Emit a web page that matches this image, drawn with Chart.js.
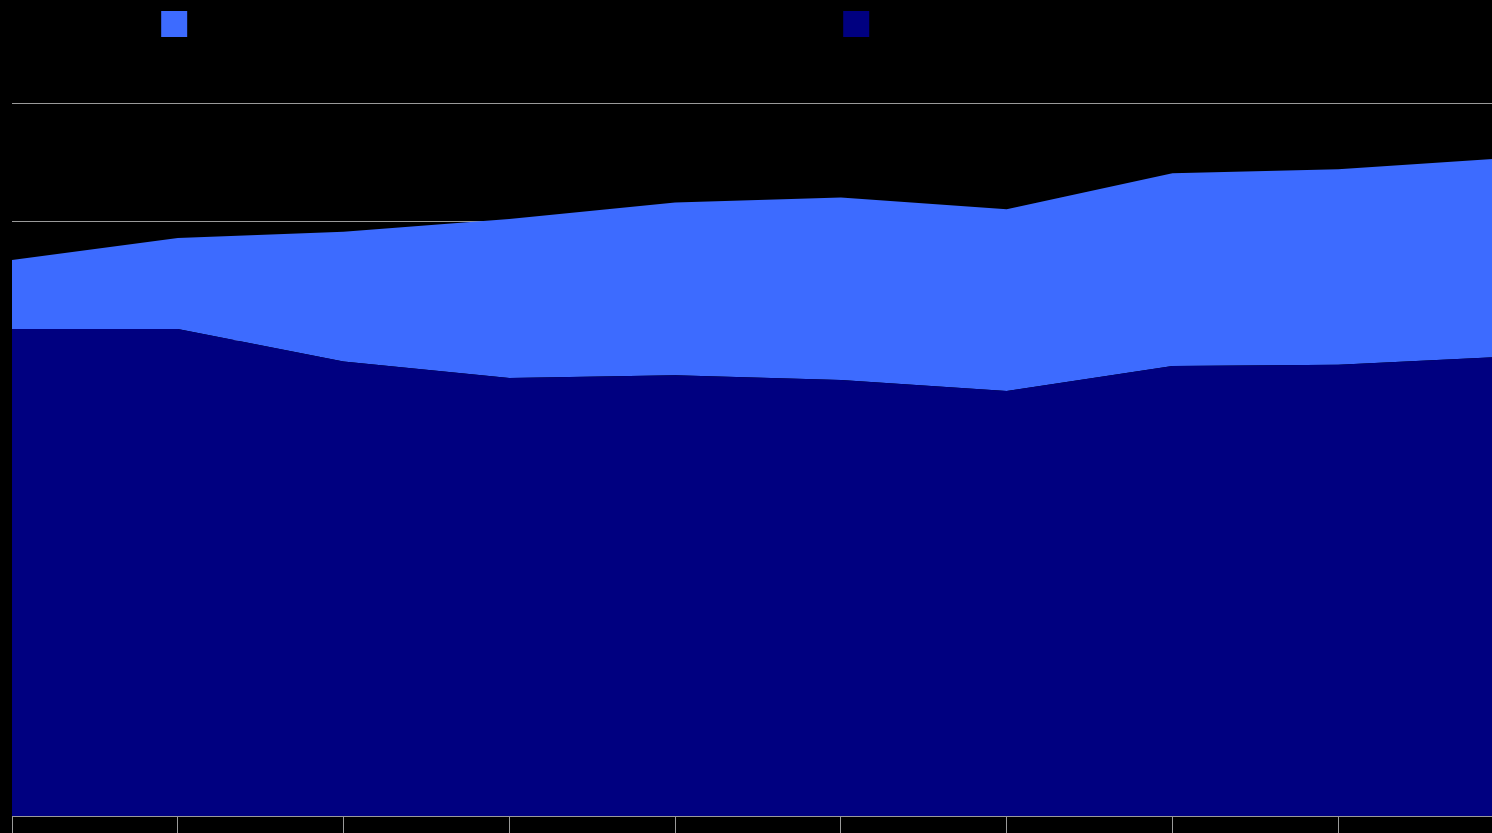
<!DOCTYPE html>
<html>
<head>
<meta charset="utf-8">
<script src="https://cdn.jsdelivr.net/npm/chart.js@4/dist/chart.umd.min.js"></script>
<style>
    html, body { margin: 0; padding: 0; background: #000; overflow: hidden; }
    canvas { display: block; }
</style>
</head>
<body>
<canvas id="chart" width="1516" height="846"></canvas>
<script>
// Ten periods along the x axis
const categories = ['1', '2', '3', '4', '5', '6', '7', '8', '9', '10'];

// Bottom (navy) series
const baseValues = [40.98, 40.98, 38.24, 36.85, 37.10, 36.68, 35.76, 37.87, 37.98, 38.65];

// Top (light blue) series, stacked on the base
const topValues = [5.80, 7.65, 10.92, 13.38, 14.52, 15.36, 15.29, 16.22, 16.45, 16.71];

const seriesNames = ['Upper stacked component of the overall total as shown', 'Lower stacked component of the full total'];
const seriesColors = ['#3d6bff', '#000080'];

const yTicks = [0, 10, 20, 30, 40, 50, 60];

const GRID = '#9a9a9a';

// extra gap under the legend
const legendGap = {
    id: 'legendGap',
    beforeInit(chart) {
        const fit = chart.legend.fit;
        chart.legend.fit = function () {
            fit.bind(chart.legend)();
            this.height += 56;
        };
    },
};

new Chart(document.getElementById('chart').getContext('2d'), {
    type: 'line',
    data: {
        labels: categories,
        datasets: [
            {
                label: seriesNames[1],
                data: baseValues,
                backgroundColor: seriesColors[1],
                borderColor: seriesColors[1],
                borderWidth: 0,
                pointRadius: 0,
                fill: 'origin',
                tension: 0,
            },
            {
                label: seriesNames[0],
                data: topValues,
                backgroundColor: seriesColors[0],
                borderColor: seriesColors[0],
                borderWidth: 0,
                pointRadius: 0,
                fill: '-1',
                tension: 0,
            },
        ],
    },
    options: {
        responsive: false,
        animation: false,
        layout: { padding: { left: 12, right: 12, top: 1 } },
        plugins: {
            legend: {
                reverse: true,
                labels: {
                    boxWidth: 26,
                    boxHeight: 26,
                    padding: 10,
                    color: '#000',
                    font: { size: 26, family: 'Liberation Sans, Arial, sans-serif' },
                },
            },
            tooltip: { enabled: false },
        },
        scales: {
            x: {
                grid: { drawOnChartArea: false, drawTicks: true, tickLength: 30, color: GRID },
                border: { display: true, color: GRID },
                ticks: { display: false },
            },
            y: {
                stacked: true,
                min: yTicks[0],
                max: yTicks[yTicks.length - 1],
                afterBuildTicks: (axis) => { axis.ticks = yTicks.map(v => ({ value: v })); },
                grid: { color: GRID, drawTicks: false },
                border: { display: false },
                ticks: { display: false },
            },
        },
    },
    plugins: [legendGap],
});
</script>
</body>
</html>
